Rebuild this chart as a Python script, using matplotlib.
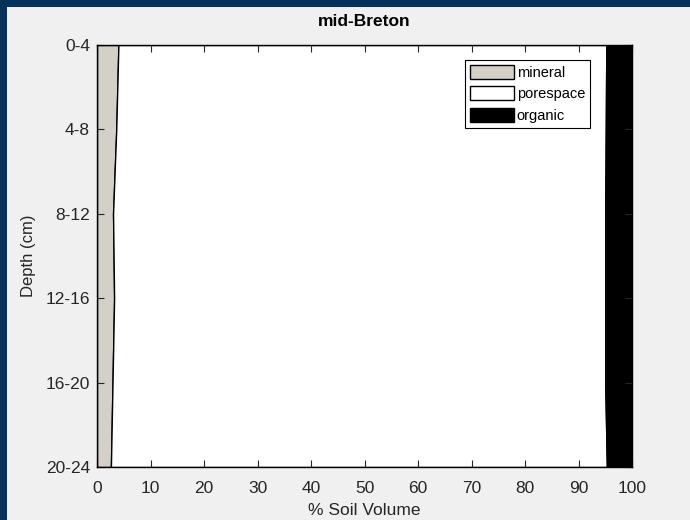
import numpy as np
import matplotlib
matplotlib.use('Agg')
import matplotlib.pyplot as plt
from matplotlib.patches import Rectangle, Patch

plt.rcParams['font.family'] = 'sans-serif'
plt.rcParams['font.sans-serif'] = ['Liberation Sans', 'DejaVu Sans']

# data (percent of soil volume per depth layer)
depths = ['0-4', '4-8', '8-12', '12-16', '16-20', '20-24']
mineral = [4.0, 3.6, 3.0, 3.2, 2.9, 2.6]
organic = [4.8, 4.9, 5.0, 5.0, 5.0, 4.7]

mineral = np.array(mineral)
organic = np.array(organic)
porespace = 100 - mineral - organic

mineral_color = '#d4d0c8'
bg_color = '#f0f0f0'
frame_color = '#07305a'

fig = plt.figure(figsize=(6.9, 5.2), dpi=100, facecolor=bg_color)

# window frame on top and left
fig.patches.append(Rectangle((0, 1 - 7/520), 1, 7/520, transform=fig.transFigure,
                             facecolor=frame_color, edgecolor='none', zorder=0))
fig.patches.append(Rectangle((0, 0), 7/690, 1, transform=fig.transFigure,
                             facecolor=frame_color, edgecolor='none', zorder=0))

ax = fig.add_axes([97/690, 53/520, 535/690, 422/520])
y = np.arange(1, len(depths) + 1)

x1 = mineral
x2 = mineral + porespace
ax.fill_betweenx(y, 0, x1, facecolor=mineral_color, edgecolor='k', linewidth=1, label='mineral')
ax.fill_betweenx(y, x1, x2, facecolor='white', edgecolor='k', linewidth=1, label='porespace')
ax.fill_betweenx(y, x2, 100, facecolor='black', edgecolor='k', linewidth=1, label='organic')

ax.set_xlim(0, 100)
ax.set_ylim(len(depths), 1)
ax.set_yticks(y, depths)
ax.set_xticks(np.arange(0, 101, 10))
ax.tick_params(axis='both', direction='in', labelsize=12.5, top=True, right=True,
               length=5, colors='#262626', labelcolor='#262626')
ax.tick_params(axis='x', pad=10)
ax.tick_params(axis='y', pad=5)
for s in ax.spines.values():
    s.set_linewidth(1)
    s.set_zorder(5)

ax.set_xlabel('% Soil Volume', fontsize=12.5, color='#262626', labelpad=5)
ax.set_ylabel('Depth (cm)', fontsize=12, color='#262626', labelpad=7)
ax.set_title('mid-Breton', fontsize=12.5, fontweight='bold', pad=14)

handles = [Patch(facecolor=mineral_color, edgecolor='k', label='mineral'),
           Patch(facecolor='white', edgecolor='k', label='porespace'),
           Patch(facecolor='black', edgecolor='k', label='organic')]
leg = ax.legend(handles=handles, loc='upper right', bbox_to_anchor=(0.922, 0.965),
                fontsize=10.5, fancybox=False, edgecolor='k', framealpha=1,
                handlelength=3.0, handleheight=1.1, handletextpad=0.2,
                labelspacing=0.45, borderpad=0.35, borderaxespad=0)
leg.get_frame().set_linewidth(0.8)

fig.savefig('out.png', dpi=100, facecolor=bg_color)
